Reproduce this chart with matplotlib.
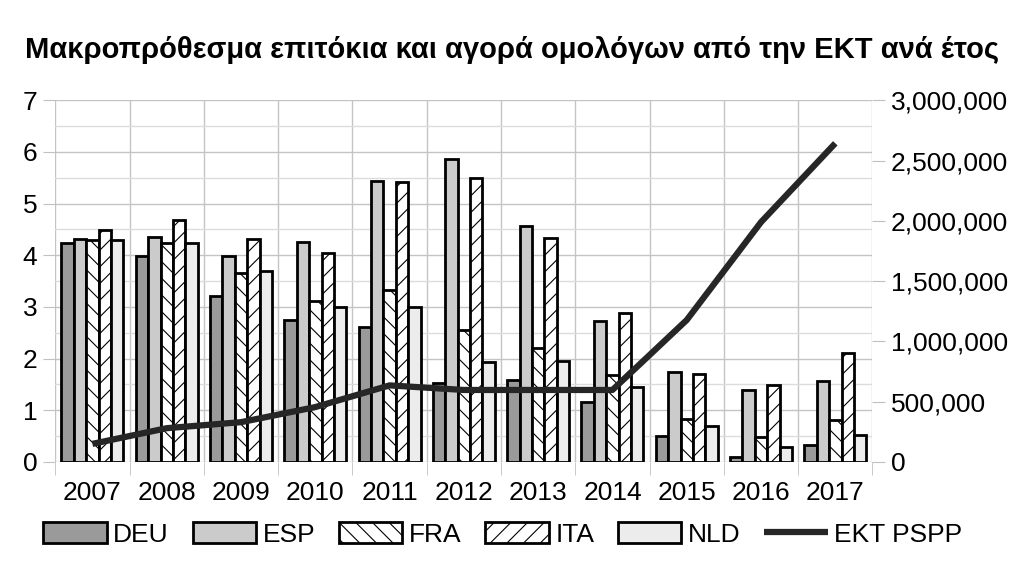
import numpy as np
import matplotlib.pyplot as plt
from matplotlib.ticker import FuncFormatter, MultipleLocator

years = ["2007", "2008", "2009", "2010", "2011", "2012", "2013", "2014", "2015", "2016", "2017"]
deu = [4.23, 3.98, 3.22, 2.74, 2.61, 1.52, 1.58, 1.16, 0.50, 0.09, 0.32]
esp = [4.31, 4.36, 3.98, 4.25, 5.44, 5.86, 4.56, 2.72, 1.74, 1.40, 1.56]
fra = [4.30, 4.23, 3.65, 3.12, 3.32, 2.55, 2.20, 1.68, 0.84, 0.48, 0.81]
ita = [4.49, 4.68, 4.31, 4.04, 5.42, 5.49, 4.33, 2.89, 1.71, 1.49, 2.11]
nld = [4.30, 4.23, 3.69, 2.99, 2.99, 1.93, 1.95, 1.46, 0.69, 0.29, 0.52]
pspp = [150000, 280000, 330000, 455000, 635000, 597000, 597000, 597000, 1177000, 1989000, 2643000]

plt.rcParams["font.family"] = ["Liberation Sans", "DejaVu Sans"]
plt.rcParams["hatch.linewidth"] = 0.8

fig = plt.figure(figsize=(10.24, 5.76), dpi=100)
ax = fig.add_axes([0.054, 0.198, 0.798, 0.628])
ax2 = ax.twinx()

x = np.arange(len(years))
w = 0.167
series = [
    ("DEU", deu, "#9a9a9a", None),
    ("ESP", esp, "#cbcbcb", None),
    ("FRA", fra, "white", "\\\\"),
    ("ITA", ita, "white", "//"),
    ("NLD", nld, "#ececec", None),
]
handles = []
for j, (name, vals, col, hatch) in enumerate(series):
    b = ax.bar(x + (j - 2) * w, vals, w, color=col, edgecolor="black",
               linewidth=2, hatch=hatch, label=name, zorder=3)
    handles.append(b)

ln, = ax2.plot(x, pspp, color="#262626", lw=4.5, label="EKT PSPP",
               solid_capstyle="butt")
handles.append(ln)

ax.set_xlim(-0.5, len(years) - 0.5)
ax.set_ylim(0, 7)
ax2.set_ylim(0, 3000000)

ax.set_xticks(x)
ax.set_xticklabels(years)
ax.set_xticks(np.arange(-0.5, len(years)), minor=True)
ax.tick_params(axis="x", which="major", length=0, labelsize=19, pad=14)
ax.tick_params(axis="x", which="minor", length=9, color="#c0c0c0")
ax.yaxis.set_major_locator(MultipleLocator(1))
ax.yaxis.set_minor_locator(MultipleLocator(0.5))
ax.tick_params(axis="y", which="major", length=9, color="#c0c0c0", labelsize=19, pad=4)
ax.tick_params(axis="y", which="minor", length=0)
ax.grid(True, which="major", color="#c4c4c4", lw=1, zorder=0)
ax.grid(True, which="minor", axis="y", color="#dcdcdc", lw=1, zorder=0)
ax.grid(True, which="minor", axis="x", color="#c4c4c4", lw=1, zorder=0)
ax.grid(False, which="major", axis="x")

ax2.yaxis.set_major_locator(MultipleLocator(500000))
ax2.yaxis.set_major_formatter(FuncFormatter(lambda v, p: f"{int(v):,}"))
ax2.tick_params(axis="y", length=9, color="#c0c0c0", labelsize=19, pad=4)

for a in (ax, ax2):
    for s in a.spines.values():
        s.set_visible(False)

fig.text(0.5, 0.913, "Μακροπρόθεσμα επιτόκια και αγορά ομολόγων από την ΕΚΤ ανά έτος",
         ha="center", va="center", fontsize=21, fontweight="bold")

fig.legend(handles=handles, labels=["DEU", "ESP", "FRA", "ITA", "NLD", "EKT PSPP"],
           loc="center", bbox_to_anchor=(0.491, 0.072), ncol=6, frameon=False,
           fontsize=19, handlelength=2.4, handleheight=0.8, columnspacing=0.9,
           handletextpad=0.25)

fig.savefig("out.png", dpi=100)
